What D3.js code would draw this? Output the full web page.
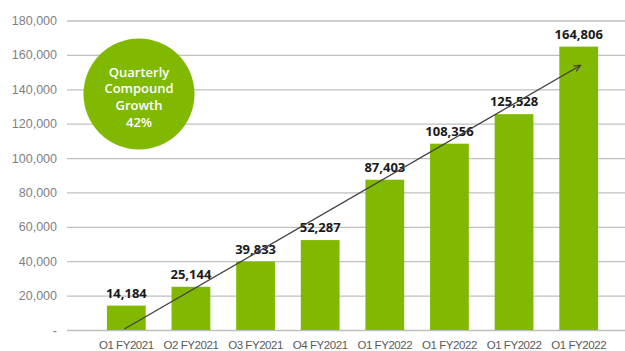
<!DOCTYPE html>
<html>
<head>
<meta charset="utf-8">
<script src="https://cdn.jsdelivr.net/npm/d3@7"></script>
<style>
  body { margin: 0; background: #fff; }
  svg { display: block; font-family: "Open Sans", "Noto Sans", sans-serif; }
</style>
</head>
<body>
<div id="chart"></div>
<script>
// datos
const categories = ["O1 FY2021", "O2 FY2021", "O3 FY2021", "O4 FY2021",
  "O1 FY2022", "O1 FY2022", "O1 FY2022", "O1 FY2022"];
const values = [14184, 25144, 39833, 52287, 87403, 108356, 125528, 164806];
const yTicks = [0, 20000, 40000, 60000, 80000, 100000, 120000, 140000, 160000, 180000];
const trendValues = [0, 154000]; // inicio y fin de la flecha
const growthLines = ["Quarterly", "Compound", "Growth", "42%"];

const width = 625;
const height = 351;
const green = "#80b900";

const svg = d3.select("#chart").append("svg")
  .attr("width", width)
  .attr("height", height);

const x = d3.scaleBand()
  .domain(d3.range(categories.length))
  .range([94, 611])
  .paddingInner(0.4)
  .paddingOuter(0.2);

const y = d3.scaleLinear()
  .domain([0, 180000])
  .range([330, 20.5]);

// rejilla + etiquetas eje y
const yAxis = d3.axisLeft(y)
  .tickValues(yTicks)
  .tickSize(-(width - 67))
  .tickFormat(d => d === 0 ? "-" : d3.format(",")(d));

svg.append("g")
  .attr("transform", "translate(67,0)")
  .call(yAxis)
  .call(g => g.select(".domain").remove())
  .call(g => g.selectAll(".tick line").attr("stroke", "#bfbfbf").attr("stroke-width", 1.3))
  .call(g => g.selectAll(".tick text")
    .attr("x", -10)
    .attr("fill", "#7f7f7f")
    .style("font-size", "12.5px"));

// barras
svg.append("g").selectAll("rect")
  .data(values)
  .join("rect")
  .attr("x", (d, i) => x(i))
  .attr("width", x.bandwidth())
  .attr("y", d => y(d))
  .attr("height", d => y(0) - y(d))
  .attr("fill", green);

// etiquetas de valores
svg.append("g").selectAll("text")
  .data(values)
  .join("text")
  .attr("x", (d, i) => x(i) + x.bandwidth() / 2)
  .attr("y", d => y(d) - 8)
  .attr("text-anchor", "middle")
  .attr("fill", "#1a1a1a")
  .style("font-size", "13px")
  .style("font-weight", "bold")
  .text(d => d3.format(",")(d));

// etiquetas eje x
svg.append("g")
  .attr("transform", `translate(0,${y(0)})`)
  .call(d3.axisBottom(x).tickSize(0).tickFormat(i => categories[i]))
  .call(g => g.select(".domain").remove())
  .call(g => g.selectAll(".tick text")
    .attr("y", 0)
    .attr("dy", 0)
    .attr("transform", "translate(0,18.5)")
    .attr("fill", "#595959")
    .style("font-size", "11.5px")
    .style("letter-spacing", "-0.45px"));

// flecha de tendencia
const defs = svg.append("defs");
defs.append("marker")
  .attr("id", "arrow")
  .attr("viewBox", "0 0 10 10")
  .attr("refX", 9)
  .attr("refY", 5)
  .attr("markerWidth", 6)
  .attr("markerHeight", 6)
  .attr("orient", "auto")
  .append("path")
  .attr("d", "M0,1 L9,5 L0,9")
  .attr("fill", "none")
  .attr("stroke", "#404040")
  .attr("stroke-width", 1.5);

const last = categories.length - 1;
svg.append("line")
  .attr("x1", x(0) + x.bandwidth() / 2 - 2)
  .attr("y1", y(trendValues[0]) - 1)
  .attr("x2", x(last) + x.bandwidth() / 2 + 2)
  .attr("y2", y(trendValues[1]))
  .attr("stroke", "#404040")
  .attr("stroke-width", 1.3)
  .attr("marker-end", "url(#arrow)");

// círculo de crecimiento
const badge = svg.append("g").attr("transform", "translate(139,94)");
badge.append("circle")
  .attr("r", 55.5)
  .attr("fill", green);
badge.selectAll("text")
  .data(growthLines)
  .join("text")
  .attr("x", 0)
  .attr("y", (d, i) => -22 + i * 16.7)
  .attr("dy", "0.35em")
  .attr("text-anchor", "middle")
  .attr("fill", "#fff")
  .style("font-size", "13px")
  .style("font-weight", 600)
  .text(d => d);
</script>
</body>
</html>
